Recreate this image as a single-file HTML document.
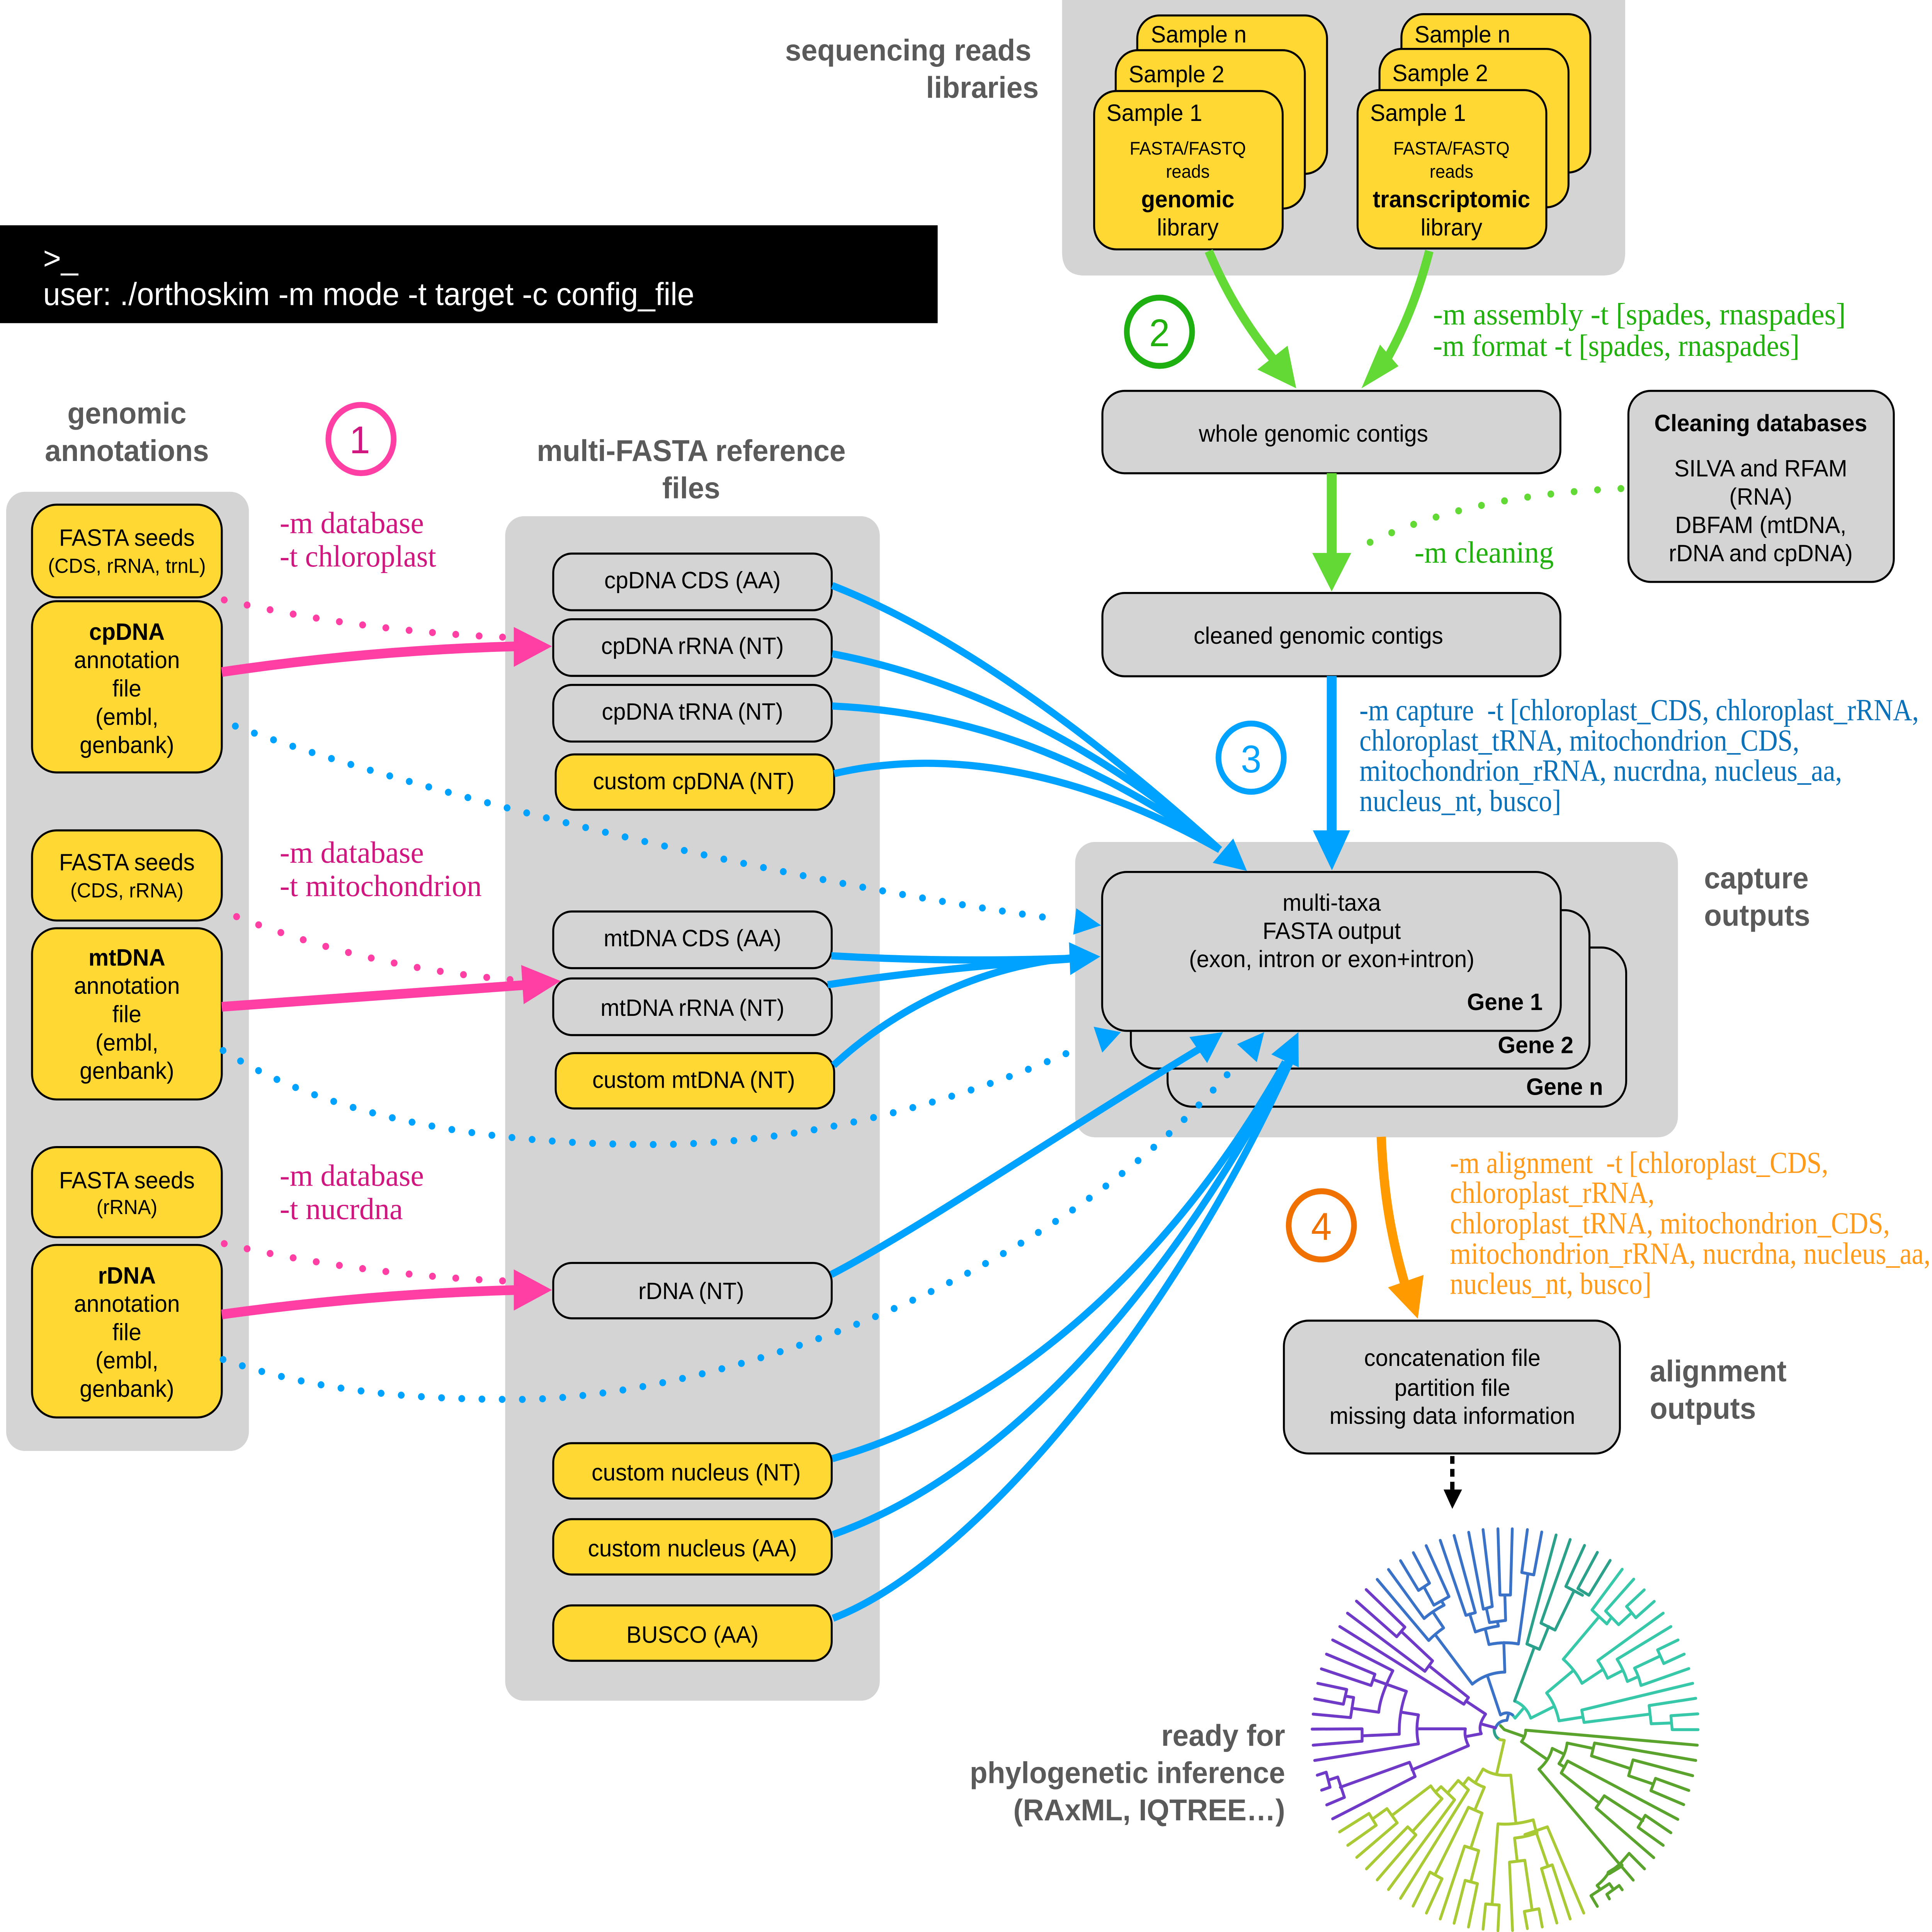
<!DOCTYPE html>
<html><head><meta charset="utf-8"><style>
html,body{margin:0;padding:0;background:#fff;width:100%;height:100%;overflow:hidden}
svg{display:block;width:100vw;height:100vh}
text{font-family:"Liberation Sans",Arial,sans-serif;font-size:18.4px;fill:#000}
.m{text-anchor:middle}
.e{text-anchor:end}
.b{font-weight:bold}
.h{font-weight:bold;font-size:23.5px;fill:#5a5a5a}
.s{font-size:15.9px}
.r{font-size:14.2px}
.f{font-family:"Liberation Serif",serif;font-size:24px}
.pk{fill:#d0177f}.gr{fill:#22b00f}.bl{fill:#0b72b9}.or{fill:#ff9a1a}
.n{font-size:30px;text-anchor:middle}
.y{fill:#ffd833;stroke:#000;stroke-width:1.6}
.g{fill:#d4d4d4;stroke:#000;stroke-width:1.6}
.p{fill:#d4d4d4}
.l{fill:none;stroke-width:5.6}
.d{fill:none;stroke-width:5.5;stroke-linecap:round;stroke-dasharray:0 19}
.u{stroke-dasharray:0 16.4}
.t path{fill:none;stroke-width:11;stroke-linecap:round;stroke-linejoin:round}
</style></head><body>
<svg xmlns="http://www.w3.org/2000/svg" viewBox="0 0 1568 1500.68" preserveAspectRatio="none">
<rect width="1568" height="1501" fill="#fff"/>
<!-- panels -->
<path class="p" d="M862,0H1319V196Q1319,214 1301,214H880Q862,214 862,196Z"/>
<rect class="p" x="5" y="382" width="197" height="745" rx="15"/>
<rect class="p" x="410" y="401" width="304" height="920" rx="15"/>
<rect class="p" x="872.6" y="654" width="489.2" height="229.4" rx="16"/>
<!-- black bar -->
<rect x="0" y="175" width="761" height="76" fill="#000"/>
<text x="35" y="209" style="fill:#fff;font-size:24.9px">&gt;_</text>
<text x="35" y="237" style="fill:#fff;font-size:24.9px">user: ./orthoskim -m mode -t target -c config_file</text>
<!-- titles -->
<text class="h e" x="837" y="47">sequencing reads</text>
<text class="h e" x="843" y="76">libraries</text>
<text class="h m" x="103" y="329">genomic</text>
<text class="h m" x="103" y="358">annotations</text>
<text class="h m" x="561" y="358">multi-FASTA reference</text>
<text class="h m" x="561" y="387">files</text>
<text class="h" x="1383" y="690">capture</text>
<text class="h" x="1383" y="719">outputs</text>
<text class="h" x="1339" y="1073">alignment</text>
<text class="h" x="1339" y="1102">outputs</text>
<text class="h e" x="1043" y="1356">ready for</text>
<text class="h e" x="1043" y="1385">phylogenetic inference</text>
<text class="h e" x="1043" y="1414">(RAxML, IQTREE…)</text>
<!-- left boxes -->
<rect class="y" x="26" y="392" width="154" height="72" rx="20"/>
<rect class="y" x="26" y="467" width="154" height="133" rx="20"/>
<rect class="y" x="26" y="645" width="154" height="70" rx="20"/>
<rect class="y" x="26" y="721" width="154" height="133" rx="20"/>
<rect class="y" x="26" y="891" width="154" height="70" rx="20"/>
<rect class="y" x="26" y="967" width="154" height="134" rx="20"/>
<text class="m" x="103" y="424">FASTA seeds</text>
<text class="m s" x="103" y="445">(CDS, rRNA, trnL)</text>
<text class="m b" x="103" y="497">cpDNA</text>
<text class="m" x="103" y="519">annotation</text>
<text class="m" x="103" y="541">file</text>
<text class="m" x="103" y="563">(embl,</text>
<text class="m" x="103" y="585">genbank)</text>
<text class="m" x="103" y="676">FASTA seeds</text>
<text class="m s" x="103" y="697">(CDS, rRNA)</text>
<text class="m b" x="103" y="750">mtDNA</text>
<text class="m" x="103" y="772">annotation</text>
<text class="m" x="103" y="794">file</text>
<text class="m" x="103" y="816">(embl,</text>
<text class="m" x="103" y="838">genbank)</text>
<text class="m" x="103" y="923">FASTA seeds</text>
<text class="m s" x="103" y="943">(rRNA)</text>
<text class="m b" x="103" y="997">rDNA</text>
<text class="m" x="103" y="1019">annotation</text>
<text class="m" x="103" y="1041">file</text>
<text class="m" x="103" y="1063">(embl,</text>
<text class="m" x="103" y="1085">genbank)</text>
<!-- middle boxes -->
<rect class="g" x="449" y="430" width="226" height="44" rx="15"/>
<rect class="g" x="449" y="481" width="226" height="44" rx="15"/>
<rect class="g" x="449" y="532" width="226" height="44" rx="15"/>
<rect class="y" x="451" y="586" width="226" height="43" rx="15"/>
<rect class="g" x="449" y="708" width="226" height="44" rx="15"/>
<rect class="g" x="449" y="760" width="226" height="44" rx="15"/>
<rect class="y" x="451" y="818" width="226" height="43" rx="15"/>
<rect class="g" x="449" y="981" width="226" height="43" rx="15"/>
<rect class="y" x="449" y="1121" width="226" height="43" rx="15"/>
<rect class="y" x="449" y="1180" width="226" height="43" rx="15"/>
<rect class="y" x="449" y="1247" width="226" height="43" rx="15"/>
<text class="m" x="562" y="457">cpDNA CDS (AA)</text>
<text class="m" x="562" y="508">cpDNA rRNA (NT)</text>
<text class="m" x="562" y="559">cpDNA tRNA (NT)</text>
<text class="m" x="563" y="613">custom cpDNA (NT)</text>
<text class="m" x="562" y="735">mtDNA CDS (AA)</text>
<text class="m" x="562" y="789">mtDNA rRNA (NT)</text>
<text class="m" x="563" y="845">custom mtDNA (NT)</text>
<text class="m" x="561" y="1009">rDNA (NT)</text>
<text class="m" x="565" y="1150">custom nucleus (NT)</text>
<text class="m" x="562" y="1209">custom nucleus (AA)</text>
<text class="m" x="562" y="1276">BUSCO (AA)</text>
<!-- samples -->
<rect class="y" x="923" y="12" width="154" height="123" rx="18"/>
<rect class="y" x="905.5" y="39" width="153.5" height="123" rx="18"/>
<rect class="y" x="888" y="70.7" width="153" height="123" rx="18"/>
<rect class="y" x="1137.4" y="11" width="153.3" height="123" rx="18"/>
<rect class="y" x="1119.6" y="38" width="153.4" height="123" rx="18"/>
<rect class="y" x="1101.8" y="70" width="153.2" height="123" rx="18"/>
<text x="934" y="33">Sample n</text><text x="916" y="64">Sample 2</text><text x="898" y="94">Sample 1</text>
<text x="1148" y="33">Sample n</text><text x="1130" y="63">Sample 2</text><text x="1112" y="94">Sample 1</text>
<text class="m r" x="964" y="120">FASTA/FASTQ</text><text class="m r" x="964" y="138">reads</text>
<text class="m b" x="964" y="161">genomic</text><text class="m" x="964" y="183">library</text>
<text class="m r" x="1178" y="120">FASTA/FASTQ</text><text class="m r" x="1178" y="138">reads</text>
<text class="m b" x="1178" y="161">transcriptomic</text><text class="m" x="1178" y="183">library</text>
<!-- right boxes -->
<rect class="g" x="894.7" y="303.6" width="371.7" height="64" rx="18"/>
<rect class="g" x="894.7" y="460.6" width="371.7" height="64.7" rx="18"/>
<rect class="g" x="1321.6" y="303.6" width="215.4" height="148.4" rx="18"/>
<text class="m" x="1066" y="343">whole genomic contigs</text>
<text class="m" x="1070" y="500">cleaned genomic contigs</text>
<text class="m b" x="1429" y="335">Cleaning databases</text>
<text class="m" x="1429" y="370">SILVA and RFAM</text>
<text class="m" x="1429" y="392">(RNA)</text>
<text class="m" x="1429" y="414">DBFAM (mtDNA,</text>
<text class="m" x="1429" y="436">rDNA and cpDNA)</text>
<rect class="g" x="947.6" y="736" width="372.2" height="123.6" rx="20"/>
<rect class="g" x="917.8" y="707" width="372.2" height="123" rx="20"/>
<rect class="g" x="894.5" y="677.3" width="372.2" height="123.4" rx="20"/>
<text class="m" x="1080.8" y="707.4">multi-taxa</text>
<text class="m" x="1080.8" y="729.3">FASTA output</text>
<text class="m" x="1080.8" y="751.3">(exon, intron or exon+intron)</text>
<text class="e b" x="1252" y="784.6">Gene 1</text>
<text class="e b" x="1277" y="818">Gene 2</text>
<text class="e b" x="1301" y="850.5">Gene n</text>
<rect class="g" x="1042" y="1025.8" width="272.7" height="103.2" rx="20"/>
<text class="m" x="1178.7" y="1061">concatenation file</text>
<text class="m" x="1178.7" y="1084.3">partition file</text>
<text class="m" x="1178.7" y="1106">missing data information</text>
<!-- circles -->
<circle cx="293" cy="341" r="26.5" fill="none" stroke="#ff3fa4" stroke-width="4.6"/>
<text class="n pk" x="292" y="352">1</text>
<circle cx="941" cy="257.7" r="26.5" fill="none" stroke="#1eb010" stroke-width="4.6"/>
<text class="n gr" x="941" y="269">2</text>
<circle cx="1015.4" cy="588.5" r="26.5" fill="none" stroke="#00a2ff" stroke-width="4.6"/>
<text class="n" x="1015.4" y="600" style="fill:#00a2ff">3</text>
<circle cx="1072.4" cy="951.8" r="26.5" fill="none" stroke="#f07000" stroke-width="4.6"/>
<text class="n" x="1072.4" y="963" style="fill:#f07000">4</text>
<!-- serif labels -->
<text class="f pk" x="227" y="414" textLength="117" lengthAdjust="spacingAndGlyphs">-m database</text>
<text class="f pk" x="227" y="440" textLength="127" lengthAdjust="spacingAndGlyphs">-t chloroplast</text>
<text class="f pk" x="227" y="670" textLength="117" lengthAdjust="spacingAndGlyphs">-m database</text>
<text class="f pk" x="227" y="696" textLength="164" lengthAdjust="spacingAndGlyphs">-t mitochondrion</text>
<text class="f pk" x="227" y="921" textLength="117" lengthAdjust="spacingAndGlyphs">-m database</text>
<text class="f pk" x="227" y="947" textLength="100" lengthAdjust="spacingAndGlyphs">-t nucrdna</text>
<text class="f gr" x="1163" y="252" textLength="335" lengthAdjust="spacingAndGlyphs">-m assembly -t [spades, rnaspades]</text>
<text class="f gr" x="1163" y="276.5" textLength="297.5" lengthAdjust="spacingAndGlyphs">-m format -t [spades, rnaspades]</text>
<text class="f gr" x="1148" y="437" textLength="113" lengthAdjust="spacingAndGlyphs">-m cleaning</text>
<text class="f bl" x="1103.3" y="559.5" textLength="454" lengthAdjust="spacingAndGlyphs" xml:space="preserve">-m capture  -t [chloroplast_CDS, chloroplast_rRNA,</text>
<text class="f bl" x="1103.3" y="583" textLength="357" lengthAdjust="spacingAndGlyphs">chloroplast_tRNA, mitochondrion_CDS,</text>
<text class="f bl" x="1103.3" y="606.5" textLength="391.7" lengthAdjust="spacingAndGlyphs">mitochondrion_rRNA, nucrdna, nucleus_aa,</text>
<text class="f bl" x="1103.3" y="630" textLength="163.7" lengthAdjust="spacingAndGlyphs">nucleus_nt, busco]</text>
<text class="f or" x="1176.8" y="911" textLength="307" lengthAdjust="spacingAndGlyphs" xml:space="preserve">-m alignment  -t [chloroplast_CDS,</text>
<text class="f or" x="1176.8" y="934.3" textLength="166" lengthAdjust="spacingAndGlyphs">chloroplast_rRNA,</text>
<text class="f or" x="1176.8" y="958" textLength="357" lengthAdjust="spacingAndGlyphs">chloroplast_tRNA, mitochondrion_CDS,</text>
<text class="f or" x="1176.8" y="981.6" textLength="390" lengthAdjust="spacingAndGlyphs">mitochondrion_rRNA, nucrdna, nucleus_aa,</text>
<text class="f or" x="1176.8" y="1005" textLength="163.5" lengthAdjust="spacingAndGlyphs">nucleus_nt, busco]</text>
<!-- pink connectors -->
<g stroke="#ff3fa4">
<path class="d" d="M182,466 Q290,490 410,495"/>
<path class="d" d="M192,712 Q300,752 415,761"/>
<path class="d" d="M182,966 Q290,990 410,995"/>
<path class="l" style="stroke-width:7.5" d="M180,522 Q300,505 420,502"/>
<path class="l" style="stroke-width:7.5" d="M180,782 L428,765"/>
<path class="l" style="stroke-width:7.5" d="M180,1021 Q300,1005 420,1002"/>
</g>
<g fill="#ff3fa4">
<polygon points="448,502 417,487 417,518"/>
<polygon points="455,762 423,749.6 425,780"/>
<polygon points="448,1002 417,986 417,1018"/>
</g>
<!-- green connectors -->
<g stroke="#63d935">
<path class="l" style="stroke-width:7" d="M981,195 Q1002,243 1036,282"/>
<path class="l" style="stroke-width:7" d="M1160,195 Q1147,243 1125,280"/>
<path class="l" style="stroke-width:8" d="M1080.8,367.5V432"/>
<path class="d" d="M1315.5,379.5 Q1180,385 1096,429"/>
</g>
<g fill="#63d935">
<polygon points="1052,301.6 1045,268.5 1020.5,287"/>
<polygon points="1105,301.6 1120,267.7 1135,284.4"/>
<polygon points="1080.8,459.4 1065,429.5 1096.7,429.5"/>
</g>
<!-- blue connectors -->
<g stroke="#00a2ff">
<path class="l" d="M675.4,454.8 C770,490 880,565 990,660"/>
<path class="l" d="M675.4,507.8 C770,525 880,570 990,660"/>
<path class="l" d="M675.4,548.4 C780,553 880,585 990,660"/>
<path class="l" d="M677,600.9 C770,580 880,600 990,660"/>
<path class="l" d="M674.7,742.4 C740,746 800,746.5 870,744.4"/>
<path class="l" d="M671.7,764.9 Q760,752 868,745"/>
<path class="l" d="M676.5,827.5 C730,780 800,750 870,744"/>
<path class="l" d="M674.6,990 C745,955 860,880 973,815"/>
<path class="l" d="M675.5,1133 C800,1100 940,1000 1043,825"/>
<path class="l" d="M676,1192 C830,1140 960,980 1045,825"/>
<path class="l" d="M676,1257 C790,1215 950,1030 1047,825"/>
<path class="l" style="stroke-width:8" d="M1080.8,525V648"/>
<path class="d u" d="M191,564 C300,604 600,680 859,714"/>
<path class="d u" d="M181,816 C270,870 400,889 530,889 C660,889 790,852 880,812"/>
<path class="d u" d="M181,1056 C260,1082 340,1087 420,1087 C560,1087 840,1010 1003,827"/>
</g>
<g fill="#00a2ff">
<polygon points="1012,676.5 1000.9,651.3 984.2,670.2"/>
<polygon points="1081,676 1065.5,645 1095.7,645"/>
<polygon points="893,743 867.6,731.9 868.6,757.4"/>
<polygon points="893.6,718.8 873.5,705.5 871,726"/>
<polygon points="909.7,801.7 887.6,797.5 894.6,817.6"/>
<polygon points="1026,801.7 1004,811 1020,825"/>
<polygon points="992.5,801.7 965.3,805.5 979.7,825.7"/>
<polygon points="1053.8,801.7 1031.8,819 1054,829"/>
</g>
<!-- orange -->
<path class="l" stroke="#ff9a00" style="stroke-width:7.5" d="M1121,883 C1123,930 1130,965 1141,1000"/>
<polygon fill="#ff9a00" points="1150.7,1024.3 1155.4,990.3 1126.5,1000"/>
<!-- dashed -->
<path fill="none" stroke="#000" stroke-width="3.5" stroke-dasharray="6 4" d="M1178.7,1131V1158"/>
<polygon fill="#000" points="1178.7,1172 1171.6,1157 1186.6,1157"/>
<!-- tree -->
<g class="t" transform="translate(1056.6 1174) scale(.20798)">
<path stroke="#37c8aa" d="M822,760L832,772L865,735M830,708Q875,725 893,772L985,728M955,678Q990,720 1003,782L1095,768M1092,742L1101,788M1092,742L1525,642M1101,788L1358,757M1355,725L1363,793M1355,725L1537,698M1363,793L1443,790M1440,763L1445,815M1440,763L1545,756M1445,815L1546,815M955,678L1058,595M1020,552Q1065,590 1093,642M1020,552L1160,393M1132,368L1190,420M1132,368L1250,216M1190,420L1205,400M1185,372L1236,423M1185,372L1295,253M1236,423L1285,380M1267,355L1303,397M1267,355L1336,293M1303,397L1375,336M1093,642L1172,592M1155,557Q1178,590 1193,623L1250,595M1155,557L1410,380M1230,552Q1255,590 1270,635L1310,618M1230,552L1440,430M1298,585Q1315,615 1323,650L1510,587M1298,585L1398,540M1388,517L1412,568M1388,517L1468,480M1412,568L1492,533"/>
<path stroke="#2ba18c" d="M830,708L905,512M878,495L927,515M878,495L992,88M927,515L963,430M933,417L988,443M933,417L1047,105M988,443L1062,297M1030,280L1095,313M1030,280L1103,127M1077,288L1120,313M1077,288L1153,153M1120,313L1203,183M750,812Q750,840 770,850"/>
<path stroke="#3a72c8" d="M775,760L725,617M665,645Q720,602 792,600L788,490M730,497Q790,485 845,495M730,497L717,445M677,450Q720,435 767,428M845,495L882,235M858,228L905,237M858,228L880,68M905,237L936,77M677,450L655,383M640,388L677,378M640,388L540,108M677,378L594,90M767,428L763,412M732,415L795,407M732,415L720,362M708,365L743,355M708,365L651,78M743,355L707,68M795,407L792,312M773,312L814,312M773,312L765,65M814,312L821,65M665,645L520,460M495,482Q520,457 553,435M495,482L294,254M553,435L513,378M477,400Q510,372 555,350M477,400L338,217M555,350L545,335M515,350L574,318M515,350L478,285M455,295L498,268M455,295L385,184M498,268L435,154M574,318L485,128M775,760Q800,745 822,760M805,762L800,780Q765,782 755,810"/>
<path stroke="#6f3ac8" d="M755,808L705,795M700,830Q685,800 717,757L640,708M632,720L650,695M632,720L148,430M650,695L497,577M480,597L510,558M480,597L178,380M510,558L390,450M370,468L402,432M370,468L213,335M402,432L251,292M700,830L645,840M650,875Q632,840 638,812L450,812M455,868Q443,815 455,760L390,750M380,832Q378,750 408,672L285,630M120,480L355,595Q305,690 300,750L195,735M96,533L285,608M270,650L285,608M270,650L76,588M190,770L202,695M190,770L44,757M202,695L172,690M162,720L175,665M162,720L50,700M175,665L62,642M380,832L235,838M235,812L235,858M235,812L40,813M235,858L44,873M455,868L50,930M650,875L430,965M420,937L442,990M420,937L150,1030M442,990L120,1148M140,992L166,1068L97,1096M140,992L105,1003M95,974L110,1030M95,974L60,985M110,1030L77,1041"/>
<path stroke="#5aa42d" d="M775,800L790,815L865,840M873,817Q875,835 857,860L955,925M873,817L1543,873M977,885Q965,930 925,963M977,885L1020,905M1035,865Q1030,905 1003,942L1025,955M1035,865L1135,885M1142,865L1130,913M1142,865L1537,930M1130,913L1280,960M1292,928L1275,987M1292,928L1525,987M1275,987L1370,1018M1380,997L1362,1043M1380,997L1510,1042M1362,1043L1490,1095M1037,932L1012,977M1037,932L1467,1150M1012,977L1155,1085M1180,1062L1148,1107M1180,1062L1330,1155M1148,1107L1373,1293M1340,1135L1312,1180M1340,1135L1440,1200M1312,1180L1410,1247M925,963L1240,1318L1293,1377M1277,1277L1240,1318L1195,1352Q1180,1375 1152,1397L1165,1412M1277,1277L1337,1335M1128,1435L1200,1390L1215,1410M1128,1435L1153,1475M1190,1430L1238,1397L1250,1413M1190,1430L1200,1447"/>
<path stroke="#5aa42d" style="stroke-width:18" d="M1198,1350L1246,1322"/>
<path stroke="#a9c935" d="M772,852L790,855L760,980M707,962Q750,990 815,985L835,1165M707,962L677,1012M765,1167Q830,1172 903,1152L915,1200M765,1167L742,1468M717,1466L770,1470M717,1466L707,1560M770,1470L765,1566M870,1207L958,1178M830,1220Q880,1215 918,1200M830,1220L840,1305M810,1310L870,1303M810,1310L822,1565M870,1303L898,1487M868,1494L925,1484M868,1494L880,1558M925,1484L938,1552M915,1200L960,1325M935,1334L977,1320M935,1334L995,1537M977,1320L1047,1522M958,1178L1100,1500M650,995Q680,1020 712,1030L675,1115M650,1105L703,1127M650,1105L520,1355M500,1347L547,1372M500,1347L434,1474M547,1372L486,1500M703,1127L660,1255M635,1250L690,1267M635,1250L540,1522M690,1267L660,1380M637,1378L685,1390M637,1378L594,1538M685,1390L650,1552M650,995L630,1020M610,1005L650,1040M610,1005L570,1050M650,1040L385,1445M543,1028L596,1077M543,1028L525,1045M596,1077L338,1412M503,1025Q520,1050 547,1073M503,1025L352,1135M547,1073L432,1195M413,1178L445,1208M413,1178L252,1335M445,1208L294,1376M332,1110L372,1163M332,1110L278,1147M372,1163L214,1292M262,1128L290,1172M262,1128L147,1197M290,1172L179,1247"/>
</g>
</svg>
</body></html>
